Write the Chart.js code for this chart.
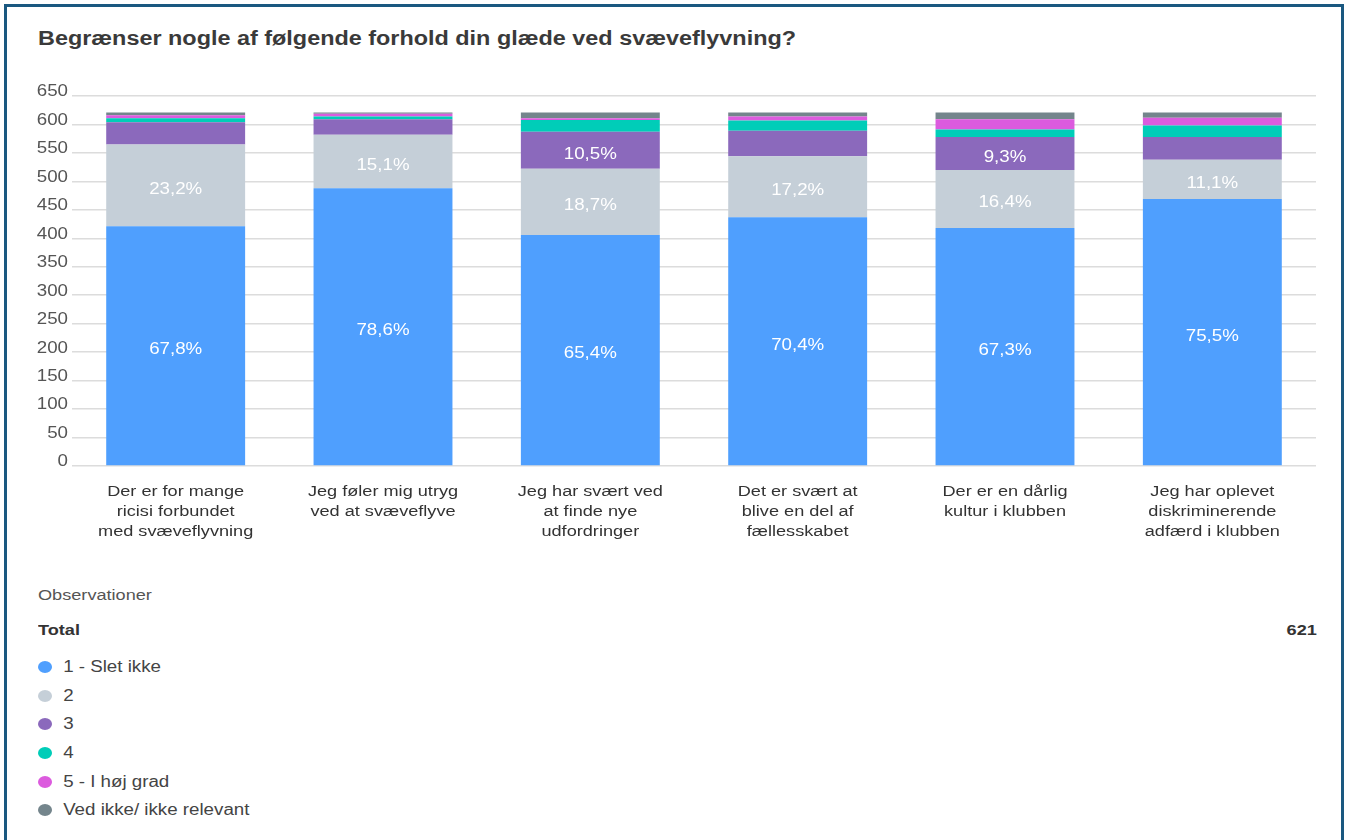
<!DOCTYPE html>
<html lang="da">
  <head>
    <meta charset="UTF-8" />
    <title>Begrænser nogle af følgende forhold din glæde ved svæveflyvning?</title>
    <script src="https://cdn.jsdelivr.net/npm/chart.js"></script>
    <style>
      body { margin: 0; background: #fff; font-family: "Liberation Sans", Arial, sans-serif; }
      #card {
        position: absolute; left: 4px; top: 4px; width: 1340px; height: 860px;
        border: 3px solid #1a5880; box-sizing: border-box;
      }
      /* originalen er strakt lidt i bredden */
      .wide { transform: scaleX(1.17); transform-origin: left center; white-space: nowrap; }
      #title {
        position: absolute; left: 31px; top: 20px; margin: 0;
        font-size: 20px; font-weight: bold; color: #3a3a3a;
      }
      #chartBox { position: absolute; left: 12px; top: 70px; width: 1299px; height: 480px; }
      #obs { position: absolute; left: 31px; top: 579px; font-size: 15.5px; color: #555; }
      #total {
        position: absolute; left: 31px; top: 614px;
        font-size: 15.5px; font-weight: bold; color: #333;
      }
      #totalN {
        position: absolute; right: 24px; top: 614px;
        font-size: 15.5px; font-weight: bold; color: #333;
        transform: scaleX(1.17); transform-origin: right center;
      }
      #legend { position: absolute; left: 31px; top: 646px; list-style: none; margin: 0; padding: 0; }
      #legend li { height: 28.6px; font-size: 16px; color: #444; display: flex; align-items: center; }
      #legend i {
        display: inline-block; width: 12px; height: 12px; border-radius: 50%;
        margin-right: 9.5px;
      }
    </style>
  </head>
  <body>
    <div id="card">
      <h1 id="title" class="wide">Begrænser nogle af følgende forhold din glæde ved svæveflyvning?</h1>
      <div id="chartBox"><canvas id="chart"></canvas></div>
      <div id="obs" class="wide">Observationer</div>
      <div id="total" class="wide">Total</div>
      <div id="totalN"></div>
      <ul id="legend"></ul>
    </div>
    <script>
      // kategorier (x-aksen), delt i linjer som i originalen
      const categories = [
        ["Der er for mange", "ricisi forbundet", "med svæveflyvning"],
        ["Jeg føler mig utryg", "ved at svæveflyve"],
        ["Jeg har svært ved", "at finde nye", "udfordringer"],
        ["Det er svært at", "blive en del af", "fællesskabet"],
        ["Der er en dårlig", "kultur i klubben"],
        ["Jeg har oplevet", "diskriminerende", "adfærd i klubben"]
      ];

      const seriesNames = ["1 - Slet ikke", "2", "3", "4", "5 - I høj grad", "Ved ikke/ ikke relevant"];
      const seriesColors = ["#4f9ffe", "#c5cfd8", "#8b69bc", "#00cdb8", "#dc5bde", "#74858c"];

      // antal svar pr. kategori
      const sletIkke = [421, 488, 406, 437, 418, 469];
      const to = [144, 94, 116, 107, 102, 69];
      const tre = [39, 27, 65, 45, 58, 40];
      const fire = [7, 5, 21, 18, 13, 20];
      const fem = [5, 5, 3, 7, 18, 14];
      const vedIkke = [5, 2, 10, 7, 12, 9];

      const yTicks = [0, 50, 100, 150, 200, 250, 300, 350, 400, 450, 500, 550, 600, 650];
      const total = 621;

      const seriesValues = [sletIkke, to, tre, fire, fem, vedIkke];

      const SX = 1.17; // vandret strækning af tekst
      const FONT = "'Liberation Sans', Arial, sans-serif";

      // legend + total
      document.getElementById("totalN").textContent = total;
      const legend = document.getElementById("legend");
      seriesNames.forEach((name, i) => {
        const li = document.createElement("li");
        li.className = "wide";
        li.innerHTML = '<i style="background:' + seriesColors[i] + '"></i>' + name;
        legend.appendChild(li);
      });

      function wideText(ctx, text, x, y, align) {
        ctx.save();
        ctx.translate(x, y);
        ctx.scale(SX, 1);
        ctx.textAlign = align;
        ctx.fillText(text, 0, 0);
        ctx.restore();
      }

      // aksetekster og procenter tegnes selv, så de kan strækkes som i originalen
      const textPlugin = {
        id: "textPlugin",
        afterDraw(chart) {
          const ctx = chart.ctx;
          const xs = chart.scales.x;
          const ys = chart.scales.y;
          ctx.save();
          ctx.textBaseline = "middle";

          // y-akse
          ctx.font = "16px " + FONT;
          ctx.fillStyle = "#555";
          yTicks.forEach(v => {
            wideText(ctx, String(v), ys.right - 4, ys.getPixelForValue(v) - 4, "right");
          });

          // x-akse
          ctx.font = "15.5px " + FONT;
          ctx.fillStyle = "#333";
          categories.forEach((lines, i) => {
            const x = xs.getPixelForValue(i);
            lines.forEach((line, k) => {
              wideText(ctx, line, x, xs.top + 26 + k * 20, "center");
            });
          });

          // procenter (kun de store segmenter)
          ctx.font = "16px " + FONT;
          ctx.fillStyle = "#fff";
          chart.data.datasets.forEach((ds, di) => {
            const meta = chart.getDatasetMeta(di);
            meta.data.forEach((bar, i) => {
              const pct = (ds.data[i] / total) * 100;
              if (pct < 8) return;
              const y = (bar.y + bar.base) / 2 + 4;
              wideText(ctx, pct.toFixed(1).replace(".", ",") + "%", bar.x, y, "center");
            });
          });
          ctx.restore();
        }
      };

      const ctx = document.getElementById("chart").getContext("2d");
      new Chart(ctx, {
        type: "bar",
        data: {
          labels: categories,
          datasets: seriesNames.map((name, i) => ({
            label: name,
            data: seriesValues[i],
            backgroundColor: seriesColors[i],
            borderWidth: 0,
            barPercentage: 0.67,
            categoryPercentage: 1
          }))
        },
        options: {
          responsive: true,
          maintainAspectRatio: false,
          animation: false,
          layout: { padding: { top: 19, right: 2, left: 0, bottom: 0 } },
          plugins: {
            legend: { display: false },
            tooltip: { enabled: false }
          },
          scales: {
            x: {
              stacked: true,
              grid: { display: false, drawTicks: false },
              border: { display: false },
              ticks: { display: false },
              afterFit(scale) { scale.height = 91; }
            },
            y: {
              stacked: true,
              min: 0,
              max: 650,
              afterBuildTicks(scale) { scale.ticks = yTicks.map(v => ({ value: v })); },
              grid: { color: "#dcdcdc", lineWidth: 1.5, drawTicks: false },
              border: { display: false },
              ticks: { display: false },
              afterFit(scale) { scale.width = 53; }
            }
          }
        },
        plugins: [textPlugin]
      });
    </script>
  </body>
</html>
